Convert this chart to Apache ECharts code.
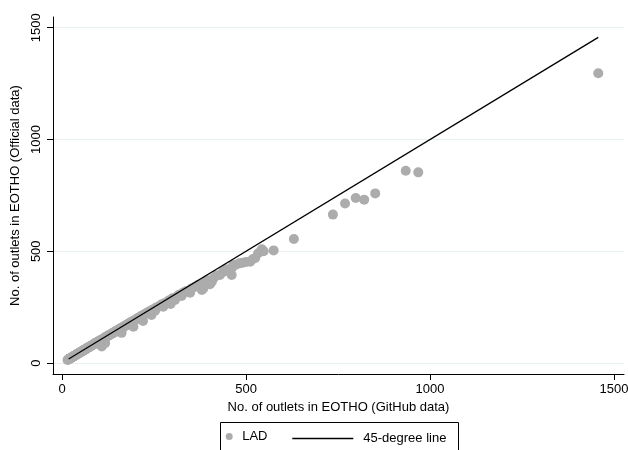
<!DOCTYPE html>
<html>
<head>
<meta charset="utf-8">
<script src="https://cdn.jsdelivr.net/npm/echarts@6/dist/echarts.min.js"></script>
<style>
html,body{margin:0;padding:0;background:#fff;}
#chart{width:628px;height:450px;}
</style>
</head>
<body>
<div id="chart"></div>
<script>
// GitHub-data outlet counts (x) and official-data outlet counts (y) per LAD
const githubData = [15,17,18,19,20,21,22,23,24,25,26,27,28,29,30,31,32,33,34,35,36,37,38,39,40,41,42,43,44,45,46,47,48,49,50,51,52,53,55,56,57,58,59,60,62,63,64,65,66,68,69,70,72,73,74,75,77,78,80,81,82,84,85,86,88,89,90,92,93,95,96,98,100,101,103,105,107,108,110,112,114,117,116,118,120,122,124,126,128,130,132,135,137,140,142,145,147,150,152,155,158,160,162,163,165,168,170,173,175,178,180,183,185,188,190,194,193,196,199,202,205,208,211,214,217,220,221,224,228,231,235,239,243,244,248,253,255,260,265,270,275,278,285,290,295,300,307,312,318,325,330,338,348,352,360,370,380,384,388,395,402,407,412,420,429,438,446,455,461,461,465,472,482,491,500,511,518,525,533,543,548,575,630,736,769,798,821,851,934,968,1457];
const officialData = [14,16,18,17,19,20,21,21,23,24,24,26,27,27,29,30,30,32,33,33,35,35,37,38,38,40,40,42,43,43,45,45,47,47,48,50,50,52,53,54,56,55,58,58,60,61,63,62,64,66,67,69,70,71,72,73,75,76,77,79,80,82,83,84,85,88,87,90,91,92,95,94,97,99,100,103,104,74,107,109,110,89,113,116,116,119,121,122,126,126,129,131,134,135,139,140,144,145,149,150,154,155,135,159,160,163,166,167,171,173,176,177,181,183,185,162,188,190,194,196,200,203,204,209,212,188,214,218,222,224,229,232,215,236,240,234,247,250,255,262,252,268,272,280,264,290,282,298,305,300,316,322,315,334,340,350,327,334,362,370,353,364,380,392,394,408,420,413,394,424,438,440,446,449,452,453,464,470,491,509,500,504,555,664,714,738,731,759,860,853,1296];
// 45-degree reference line end points
const lineEnds = [18, 1457];
const xTicks = [0, 500, 1000, 1500];
const yTicks = [0, 500, 1000, 1500];
const seriesNames = ['LAD', '45-degree line'];
const xTitle = 'No. of outlets in EOTHO (GitHub data)';
const yTitle = 'No. of outlets in EOTHO (Official data)';

const scatterPts = githubData.map((x, i) => [x, officialData[i]]);
const linePts = lineEnds.map(v => [v, v]);

const chart = echarts.init(document.getElementById('chart'), null, {renderer: 'canvas'});
const font = 'Liberation Sans, Arial, sans-serif';
const plain = v => String(v);
chart.setOption({
  animation: false,
  backgroundColor: '#ffffff',
  textStyle: {fontFamily: font},
  grid: {left: 53, right: 4, top: 17, bottom: 76, containLabel: false, outerBoundsMode: 'none'},
  xAxis: {
    type: 'value', min: -24.5, max: 1527,
    name: xTitle, nameLocation: 'middle', nameGap: 23,
    nameTextStyle: {fontSize: 13, color: '#000', fontFamily: font},
    axisLine: {show: true, onZero: false, lineStyle: {color: '#000', width: 1}},
    axisTick: {show: true, length: 6, customValues: xTicks, lineStyle: {color: '#000'}},
    axisLabel: {customValues: xTicks, formatter: plain, fontSize: 13, color: '#000', margin: 9, fontFamily: font},
    splitLine: {show: false}
  },
  yAxis: {
    type: 'value', min: -49, max: 1548,
    name: yTitle, nameLocation: 'middle', nameGap: 22, nameRotate: 90,
    nameTextStyle: {fontSize: 13, color: '#000', fontFamily: font},
    axisLine: {show: true, onZero: false, lineStyle: {color: '#000', width: 1}},
    axisTick: {show: true, length: 6, customValues: yTicks, lineStyle: {color: '#000'}},
    axisLabel: {customValues: yTicks, formatter: plain, fontSize: 13, color: '#000', margin: 10, rotate: 90, fontFamily: font},
    splitLine: {show: true, lineStyle: {color: '#e8f0f2', width: 1}}
  },
  legend: [
    {data: [seriesNames[0]], left: 225.7, top: 430, padding: 0, itemWidth: 16, itemHeight: 7,
     textStyle: {fontSize: 13, color: '#000', fontFamily: font}},
    {data: [{name: seriesNames[1], icon: 'rect'}], left: 292.3, top: 432, padding: 0, itemWidth: 61, itemHeight: 1.4,
     itemStyle: {color: '#000'},
     textStyle: {fontSize: 13, color: '#000', fontFamily: font, padding: [0, 0, 0, 5]}}
  ],
  graphic: [{type: 'rect', shape: {x: 220.5, y: 422.5, width: 238, height: 40},
    style: {fill: 'none', stroke: '#000', lineWidth: 1}, silent: true}],
  series: [
    {name: seriesNames[0], type: 'scatter', data: scatterPts, symbol: 'circle', symbolSize: 10,
     itemStyle: {color: '#acacac', opacity: 1}, z: 2},
    {name: seriesNames[1], type: 'line', data: linePts, symbol: 'none', showSymbol: false,
     lineStyle: {color: '#000', width: 1.3}, itemStyle: {color: '#000'}, z: 3}
  ]
});
</script>
</body>
</html>
